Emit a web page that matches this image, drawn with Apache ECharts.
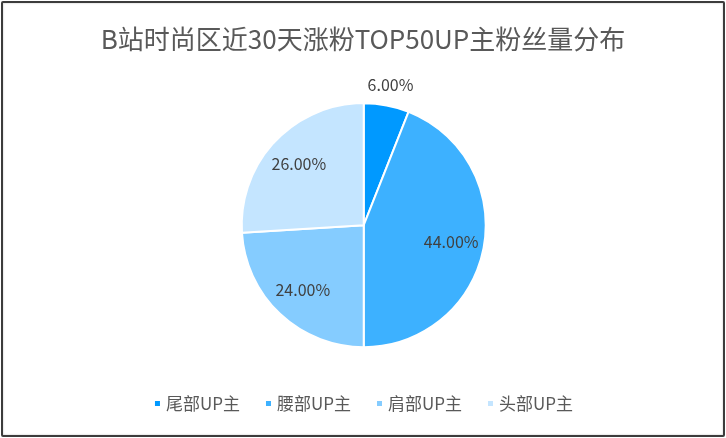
<!DOCTYPE html>
<html><head><meta charset="utf-8">
<script src="https://cdn.jsdelivr.net/npm/echarts@6/dist/echarts.min.js"></script>
<style>
html,body{margin:0;padding:0;background:#fff;}
#frame{position:absolute;left:1px;top:1px;width:720px;height:432px;border:2px solid #3c3c3c;border-radius:2px;box-shadow:inset 0 0 2px #bbb;}
#chart{position:absolute;left:0;top:0;width:726px;height:438px;}
</style></head>
<body>
<div id="frame"></div>
<div id="chart"></div>
<script>
const titleText = 'B站时尚区近30天涨粉TOP50UP主粉丝量分布';
const categories = ['尾部UP主', '腰部UP主', '肩部UP主', '头部UP主'];
const values = [6, 44, 24, 26];
const colors = ['#0099FF', '#3DB1FF', '#85CCFF', '#C4E5FF'];
const outsideLabel = [true, false, false, false];

const font = '"Noto Sans CJK SC", "Noto Sans", sans-serif';
const chart = echarts.init(document.getElementById('chart'), null, {renderer: 'canvas'});
const mk = (filter) => categories.map((c, i) => ({
  name: c, value: values[i],
  label: {show: filter(i)}
}));
const fmt = p => p.value.toFixed(2) + '%';
const center = ['50.1%', '51.4%'];
chart.setOption({
  animation: false,
  color: colors,
  title: {
    text: titleText, left: 'center', top: 21,
    textStyle: {fontFamily: font, fontSize: 26, fontWeight: 'normal', color: '#595959'}
  },
  legend: {
    data: categories, bottom: 21, left: 'center',
    icon: 'rect', itemWidth: 7, itemHeight: 7, itemGap: 24,
    textStyle: {fontFamily: font, fontSize: 17, color: '#595959'}
  },
  series: [
    {
      type: 'pie', radius: [0, 122], center: center, startAngle: 90, clockwise: true,
      data: mk(() => false),
      label: {show: false}, labelLine: {show: false},
      itemStyle: {borderColor: '#fff', borderWidth: 2},
      emphasis: {disabled: true}
    },
    {
      type: 'pie', radius: [50, 122], center: center, startAngle: 90, clockwise: true,
      data: mk(i => !outsideLabel[i]), silent: true,
      itemStyle: {color: 'rgba(0,0,0,0)', borderWidth: 0},
      label: {position: 'inside', formatter: fmt, fontFamily: font, fontSize: 16, color: '#404040'},
      labelLine: {show: false}, emphasis: {disabled: true}
    },
    {
      type: 'pie', radius: [122, 158], center: center, startAngle: 90, clockwise: true,
      data: mk(i => outsideLabel[i]), silent: true,
      itemStyle: {color: 'rgba(0,0,0,0)', borderWidth: 0},
      label: {position: 'inside', formatter: fmt, fontFamily: font, fontSize: 16, color: '#404040'},
      labelLine: {show: false}, emphasis: {disabled: true}
    }
  ]
});
</script>
</body></html>
